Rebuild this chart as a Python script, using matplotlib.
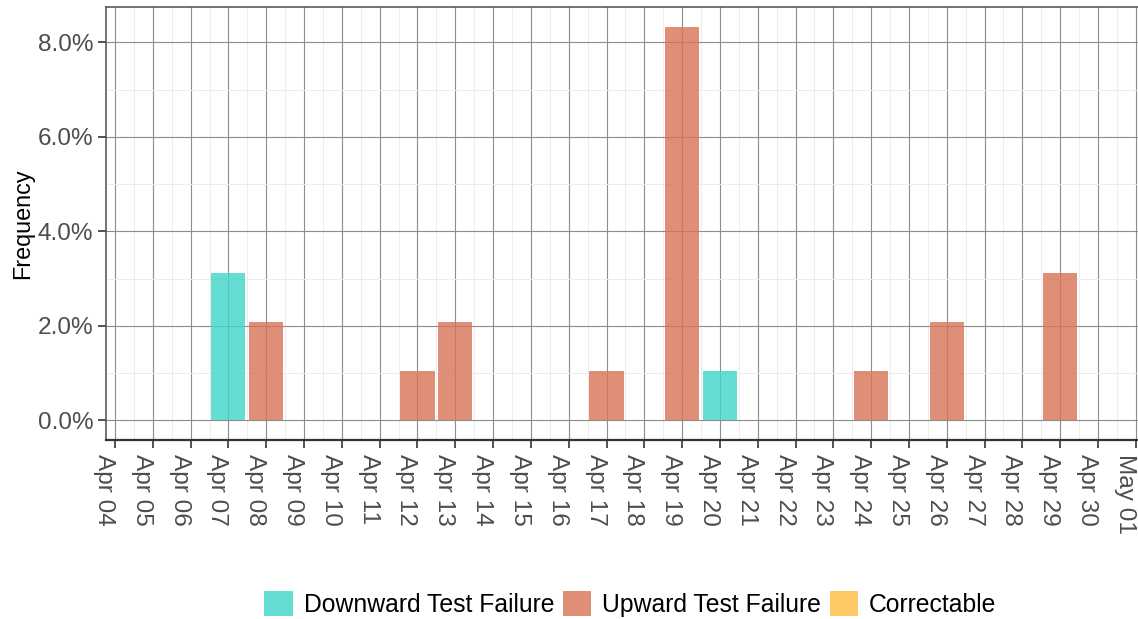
import pandas as pd
import matplotlib
matplotlib.use('Agg')
import matplotlib.pyplot as plt
import matplotlib.dates as mdates
from matplotlib.patches import Patch
from matplotlib.ticker import FuncFormatter, MultipleLocator

plt.rcParams['font.family'] = ['Liberation Sans', 'DejaVu Sans']

# frequency (%) per day, counts out of 96 tests
down_dates = ['2021-04-07', '2021-04-20']
down_vals = [3.125, 1.0417]
up_dates = ['2021-04-08', '2021-04-12', '2021-04-13', '2021-04-17', '2021-04-19',
            '2021-04-24', '2021-04-26', '2021-04-29']
up_vals = [2.0833, 1.0417, 2.0833, 1.0417, 8.3333, 1.0417, 2.0833, 3.125]
categories = ['Downward Test Failure', 'Upward Test Failure', 'Correctable']
colors = ['#40D5C8', '#D87256', '#FFBC40']

tick_days = pd.date_range('2021-04-04', '2021-05-01', freq='D')

fig = plt.figure(figsize=(11.38, 6.19), dpi=100)
ax = fig.add_axes([106 / 1138, 1 - 440 / 619, 1032 / 1138, 433 / 619])

ax.bar(pd.to_datetime(down_dates), down_vals, width=0.9, color=colors[0], alpha=0.8, zorder=3)
ax.bar(pd.to_datetime(up_dates), up_vals, width=0.9, color=colors[1], alpha=0.8, zorder=3)

start = mdates.date2num(tick_days[0])
end = mdates.date2num(tick_days[-1])
ax.set_xlim(start - 0.24, end + 0.06)
ax.set_ylim(-0.417, 8.75)

ax.set_xticks(tick_days)
ax.xaxis.set_major_formatter(mdates.DateFormatter('%b %d'))
ax.xaxis.set_minor_locator(MultipleLocator(0.5))
ax.yaxis.set_major_locator(MultipleLocator(2))
ax.yaxis.set_minor_locator(MultipleLocator(1))
ax.yaxis.set_major_formatter(FuncFormatter(lambda v, p: '{:.1f}%'.format(v)))

ax.grid(True, which='major', color='#8c8c8c', linewidth=0.8, zorder=0)
ax.grid(True, which='minor', color='#ececec', linewidth=0.7, zorder=0)
ax.set_axisbelow(True)

ax.tick_params(axis='x', which='major', labelrotation=270, labelsize=17.6,
               labelcolor='#4d4d4d', length=6, width=1.2, color='#333333', pad=4)
ax.tick_params(axis='y', which='major', labelsize=17.6, labelcolor='#4d4d4d',
               length=6, width=1.2, color='#333333', pad=3)
ax.tick_params(which='minor', length=0)
for lab in ax.get_xticklabels():
    lab.set_verticalalignment('top')
    lab.set_horizontalalignment('right')

for s in ['left', 'top', 'bottom']:
    ax.spines[s].set_color('#4d4d4d')
    ax.spines[s].set_linewidth(1.1)
ax.spines['bottom'].set_color('#333333')
ax.spines['bottom'].set_linewidth(1.6)
ax.spines['right'].set_visible(False)

ax.set_ylabel('Frequency', fontsize=16.8, color='black', labelpad=3)

handles = [Patch(facecolor=c, alpha=0.8, edgecolor='none') for c in colors]
fig.legend(handles, categories, loc='center', bbox_to_anchor=(0.554, 0.024), ncol=3,
           frameon=False, fontsize=17.8, handlelength=1.14, handleheight=1.14,
           handletextpad=0.45, columnspacing=0.35, borderaxespad=0)

fig.savefig('out.png', dpi=100)
